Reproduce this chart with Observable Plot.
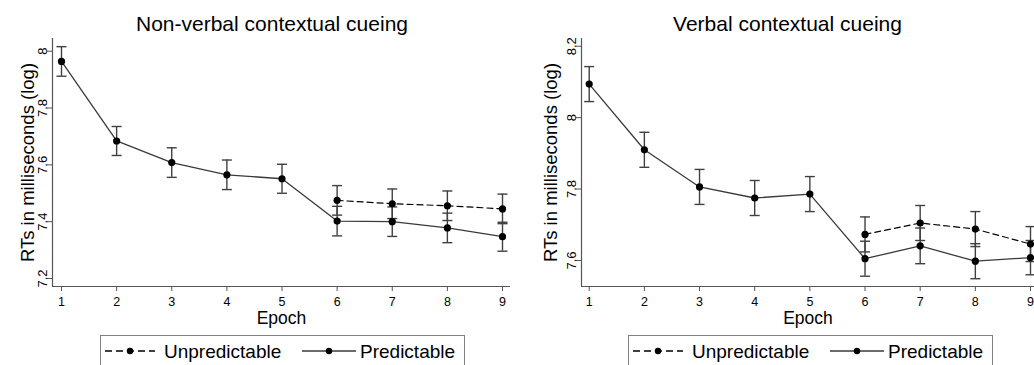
<!DOCTYPE html>
<html>
<head>
<meta charset="utf-8">
<script src="https://cdn.jsdelivr.net/npm/d3@7"></script>
<script src="https://cdn.jsdelivr.net/npm/@observablehq/plot@0.6"></script>
<style>
  body { margin: 0; background: #fff; font-family: "Liberation Sans", Arial, sans-serif; }
  #root { position: relative; width: 1034px; height: 365px; overflow: hidden; background: #fff; }
  .panel { position: absolute; top: 0; width: 517px; height: 365px; }
  .panel svg { position: absolute; left: 0; top: 0; }
  .title { position: absolute; top: 13px; font-size: 21px; line-height: 21px; white-space: nowrap; transform: translateX(-50%); color: #000; }
  .legend { position: absolute; top: 335px; width: 365px; height: 42px; border: 1px solid #808080; box-sizing: border-box; background: #fff; }
  .legend .lab { position: absolute; top: 6px; font-size: 19px; line-height: 19px; white-space: nowrap; color: #000; }
  .legend svg { position: absolute; top: 9px; }
</style>
</head>
<body>
<div id="root"></div>
<script>
// ---- data ----
const epochs = [1, 2, 3, 4, 5, 6, 7, 8, 9];
const unpredEpochs = [6, 7, 8, 9];
const seriesNames = ["Unpredictable", "Predictable"];

// Non-verbal contextual cueing
const nvPredictable   = [7.964, 7.684, 7.608, 7.565, 7.551, 7.402, 7.400, 7.378, 7.347];
const nvPredictableSE = [0.052, 0.051, 0.052, 0.052, 0.051, 0.052, 0.052, 0.052, 0.051];
const nvUnpredictable   = [7.475, 7.463, 7.456, 7.445];
const nvUnpredictableSE = [0.052, 0.052, 0.052, 0.052];
const nvTicksY = [7.2, 7.4, 7.6, 7.8, 8];

// Verbal contextual cueing
const vPredictable   = [8.094, 7.910, 7.806, 7.775, 7.786, 7.605, 7.641, 7.598, 7.608];
const vPredictableSE = [0.049, 0.049, 0.049, 0.049, 0.049, 0.049, 0.050, 0.049, 0.048];
const vUnpredictable   = [7.673, 7.705, 7.688, 7.646];
const vUnpredictableSE = [0.049, 0.049, 0.049, 0.049];
const vTicksY = [7.6, 7.8, 8, 8.2];

const titles = ["Non-verbal contextual cueing", "Verbal contextual cueing"];
const yLabel = "RTs in milliseconds (log)";
const xLabel = "Epoch";

// ---- drawing ----
const FONT = '"Liberation Sans", Arial, sans-serif';
const capSymbol = {
  draw(ctx, size) {
    const r = Math.sqrt(size / Math.PI);
    ctx.moveTo(-r, 0);
    ctx.lineTo(r, 0);
  }
};

function panel(cfg) {
  const pred = epochs.map((e, i) => ({epoch: e, rt: cfg.pred[i], se: cfg.predSE[i]}));
  const unpred = unpredEpochs.map((e, i) => ({epoch: e, rt: cfg.unpred[i], se: cfg.unpredSE[i]}));
  const all = pred.concat(unpred);
  const barColor = "#404040";
  return Plot.plot({
    width: 517,
    height: 335,
    marginTop: 38,
    marginBottom: 49,
    marginLeft: cfg.ml,
    marginRight: cfg.mr,
    x: {domain: cfg.xDomain},
    y: {domain: cfg.yDomain},
    style: {fontFamily: FONT, fontSize: "13px", color: "#000", background: "transparent", overflow: "visible"},
    marks: [
      Plot.ruleY([cfg.yDomain[0]], {stroke: "#555", strokeWidth: 1.2}),
      Plot.ruleX([cfg.xDomain[0]], {stroke: "#555", strokeWidth: 1.2}),
      Plot.axisX({ticks: epochs, tickSize: 5, tickPadding: 6, tickFormat: d => String(d), label: null, stroke: "#555", fontSize: 12.5}),
      Plot.axisY({ticks: cfg.yTicks, tickSize: 5, tickPadding: 1, tickRotate: -90, tickFormat: d => String(d), label: null, stroke: "#555", fontSize: 13}),
      Plot.line(pred, {x: "epoch", y: "rt", stroke: "#3a3a3a", strokeWidth: 1.3}),
      Plot.line(unpred, {x: "epoch", y: "rt", stroke: "#000", strokeWidth: 1.2, strokeDasharray: "6,4"}),
      Plot.ruleX(all, {x: "epoch", y1: d => d.rt - d.se, y2: d => d.rt + d.se, stroke: barColor, strokeWidth: 1.4}),
      Plot.dot(all, {x: "epoch", y: d => d.rt + d.se, symbol: capSymbol, r: 5, fill: "none", stroke: barColor, strokeWidth: 1.4}),
      Plot.dot(all, {x: "epoch", y: d => d.rt - d.se, symbol: capSymbol, r: 5, fill: "none", stroke: barColor, strokeWidth: 1.4}),
      Plot.dot(all, {x: "epoch", y: "rt", r: 3.6, fill: "#000", stroke: "none"}),
      Plot.text([yLabel], {text: d => d, frameAnchor: "left", dx: cfg.yLabelDx, rotate: -90, fontSize: 18.5, textAnchor: "middle", lineAnchor: "middle", fill: "#000"}),
      Plot.text([xLabel], {text: d => d, frameAnchor: "bottom", dy: 32, fontSize: 17.5, textAnchor: "middle", lineAnchor: "middle", fill: "#000"})
    ]
  });
}

function sampleSvg(dashed, w) {
  const ns = "http://www.w3.org/2000/svg";
  const s = document.createElementNS(ns, "svg");
  s.setAttribute("width", w); s.setAttribute("height", 12);
  const l = document.createElementNS(ns, "line");
  l.setAttribute("x1", 0); l.setAttribute("x2", w); l.setAttribute("y1", 6); l.setAttribute("y2", 6);
  l.setAttribute("stroke", dashed ? "#000" : "#3a3a3a"); l.setAttribute("stroke-width", 1.3);
  if (dashed) l.setAttribute("stroke-dasharray", "7,4");
  s.appendChild(l);
  const c = document.createElementNS(ns, "circle");
  c.setAttribute("cx", w / 2); c.setAttribute("cy", 6); c.setAttribute("r", 3.2); c.setAttribute("fill", "#000");
  s.appendChild(c);
  return s;
}

function buildPanel(left, cfg) {
  const p = document.createElement("div");
  p.className = "panel";
  p.style.left = left + "px";
  p.appendChild(panel(cfg));
  const t = document.createElement("div");
  t.className = "title"; t.textContent = cfg.title; t.style.left = cfg.titleX + "px";
  p.appendChild(t);
  const lg = document.createElement("div");
  lg.className = "legend"; lg.style.left = cfg.legendX + "px";
  const s1 = sampleSvg(true, 50); s1.style.left = "4px"; lg.appendChild(s1);
  const l1 = document.createElement("div"); l1.className = "lab"; l1.textContent = seriesNames[0]; l1.style.left = "63px"; lg.appendChild(l1);
  const s2 = sampleSvg(false, 54); s2.style.left = "201px"; lg.appendChild(s2);
  const l2 = document.createElement("div"); l2.className = "lab"; l2.textContent = seriesNames[1]; l2.style.left = "259px"; lg.appendChild(l2);
  p.appendChild(lg);
  return p;
}

const root = document.getElementById("root");
root.appendChild(buildPanel(0, {
  title: titles[0], titleX: 272, legendX: 100,
  pred: nvPredictable, predSE: nvPredictableSE, unpred: nvUnpredictable, unpredSE: nvUnpredictableSE,
  yTicks: nvTicksY, yDomain: [7.1718, 8.0447], xDomain: [0.8367, 9.1451],
  ml: 52, mr: 7, yLabelDx: -24.6
}));
root.appendChild(buildPanel(517, {
  title: titles[1], titleX: 270.5, legendX: 111,
  pred: vPredictable, predSE: vPredictableSE, unpred: vUnpredictable, unpredSE: vUnpredictableSE,
  yTicks: vTicksY, yDomain: [7.5272, 8.2216], xDomain: [0.8604, 9.0725],
  ml: 64, mr: 0, yLabelDx: -30.2
}));
</script>
</body>
</html>
